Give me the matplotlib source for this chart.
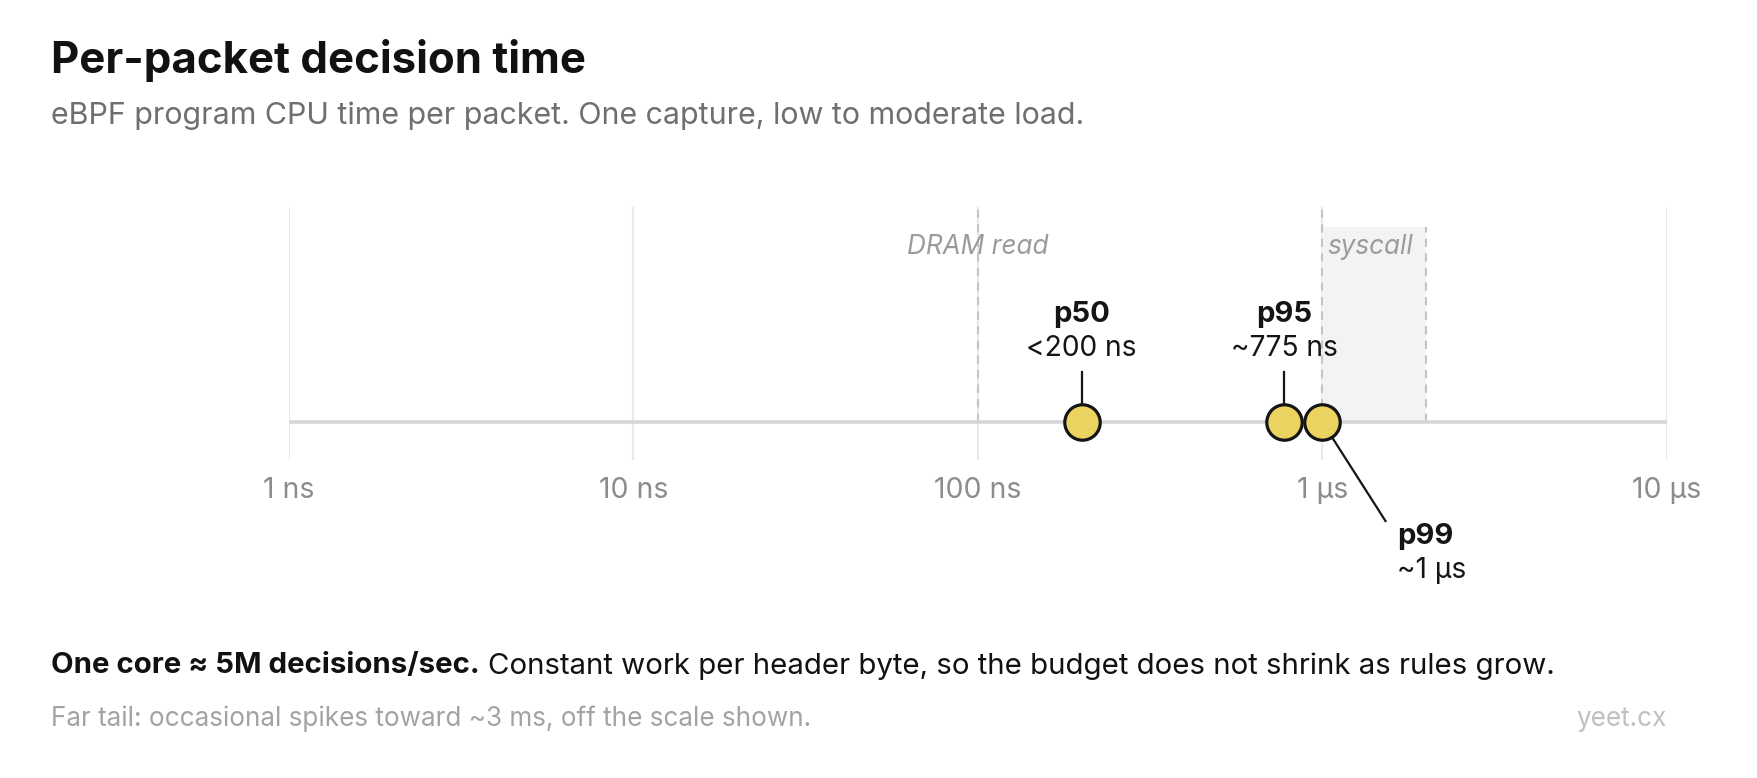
import matplotlib
matplotlib.use("Agg")
import matplotlib.pyplot as plt

W, H, DPI = 1758, 778, 100

# ---- data ----
decade_ticks_ns = [1, 10, 100, 1000, 10000]
tick_labels = ["1 ns", "10 ns", "100 ns", "1 µs", "10 µs"]
pct_names = ["p50", "p95", "p99"]
pct_values_ns = [200, 775, 1000]
pct_texts = ["<200 ns", "~775 ns", "~1 µs"]
dram_ns = 100
syscall_range_ns = [1000, 2000]

plt.rcParams['font.family'] = ['Inter', 'DejaVu Sans']

fig = plt.figure(figsize=(W / DPI, H / DPI), dpi=DPI)
fig.patch.set_facecolor("white")

def fx(px):
    return px / W

def fy(py):
    return 1 - py / H

# axes: x from 289 to 1667 px, y from 207 (top) to 460 (bottom)
ax_left, ax_right, ax_top, ax_bot = 289, 1667, 207.4, 459.7
ax = fig.add_axes([fx(ax_left), fy(ax_bot), (ax_right - ax_left) / W, (ax_bot - ax_top) / H])
ax.set_xscale("log")
ax.set_xlim(decade_ticks_ns[0], decade_ticks_ns[-1])
axis_y_px = 421.6
ax.set_ylim(-(ax_bot - axis_y_px), axis_y_px - ax_top)  # y=0 at axis line, units = px
ax.axis("off")

# gridlines
for t in decade_ticks_ns:
    ax.axvline(t, color="#e9e9e9", lw=1.5, zorder=0)

# syscall band
band_top = axis_y_px - 226.5
ax.fill_between(syscall_range_ns, 0, band_top, color="#f3f3f3", lw=0, zorder=0.5)
ax.plot([syscall_range_ns[1]] * 2, [0, band_top], color="#c4c4c4", lw=1.5, ls=(0, (4, 3)), zorder=1)
ax.plot([syscall_range_ns[0]] * 2, [0, axis_y_px - ax_top], color="#c4c4c4", lw=1.5, ls=(0, (4, 3)), zorder=1)
# DRAM line
ax.plot([dram_ns] * 2, [0, axis_y_px - ax_top], color="#c4c4c4", lw=1.5, ls=(0, (4, 3)), zorder=1)

lab_y = axis_y_px - 247.5
ax.text(dram_ns, lab_y, "DRAM read", ha="center", va="center", style="italic",
        color="#9b9b9b", fontsize=18.8, zorder=2)
ax.text(syscall_range_ns[0] * 1.03, lab_y, "syscall", ha="left", va="center", style="italic",
        color="#9b9b9b", fontsize=18.8, zorder=2)

# axis line
ax.plot([decade_ticks_ns[0], decade_ticks_ns[-1]], [0, 0], color="#d6d6d6", lw=2.6, zorder=1.5,
        solid_capstyle="butt")

# tick labels
for i, lab in enumerate(tick_labels):
    fig.text(fx(ax_left + (ax_right - ax_left) * (i / (len(tick_labels) - 1))), fy(490), lab,
             ha="center", va="center", color="#8c8c8c", fontsize=20.5)

# markers
ax.plot(pct_values_ns, [0] * len(pct_values_ns), "o", ms=25.5, mfc="#ebd35f", mec="#151515",
        mew=2.3, zorder=5, clip_on=False)

# labels for p50, p95 (above)
r = 17
for name, v, txt in zip(pct_names[:2], pct_values_ns[:2], pct_texts[:2]):
    ax.plot([v, v], [r, axis_y_px - 372], color="#151515", lw=1.6, zorder=4)
    ax.text(v, axis_y_px - 315, name, ha="center", va="center", fontweight="bold",
            color="#151515", fontsize=21, zorder=6)
    ax.text(v, axis_y_px - 348.5, txt, ha="center", va="center",
            color="#151515", fontsize=20.3, zorder=6)

# p99 label (below right)
x_end = 10 ** (3 + (1386 - 1323) / 344.5)
x_start = 10 ** (3 + (1333 - 1323) / 344.5)
ax.plot([x_start, x_end], [axis_y_px - 438, axis_y_px - 521], color="#151515", lw=1.6,
        zorder=4, clip_on=False)
fig.text(fx(1397), fy(537), pct_names[2], ha="left", va="center", fontweight="bold",
         color="#151515", fontsize=21)
fig.text(fx(1397), fy(570), pct_texts[2], ha="left", va="center",
         color="#151515", fontsize=20.3)

# title and subtitle
fig.text(fx(51), fy(61), "Per-packet decision time", ha="left", va="center",
         fontweight="bold", color="#111111", fontsize=31.5)
fig.text(fx(51), fy(115.5), "eBPF program CPU time per packet. One capture, low to moderate load.",
         ha="left", va="center", color="#6f6f6f", fontsize=21.9)

# footer
t1 = fig.text(fx(51), fy(666), "One core ≈ 5M decisions/sec.", ha="left", va="center",
              fontweight="bold", color="#111111", fontsize=21.2)
fig.canvas.draw()
bb = t1.get_window_extent()
fig.text((bb.x1 + 8) / W, fy(666),
         "Constant work per header byte, so the budget does not shrink as rules grow.",
         ha="left", va="center", color="#111111", fontsize=21.2)
fig.text(fx(51), fy(719), "Far tail: occasional spikes toward ~3 ms, off the scale shown.",
         ha="left", va="center", color="#a3a3a3", fontsize=18.8)
fig.text(fx(1667), fy(719), "yeet.cx", ha="right", va="center", color="#c0c0c0", fontsize=18.8)

fig.savefig("out.png", dpi=DPI, facecolor="white")
